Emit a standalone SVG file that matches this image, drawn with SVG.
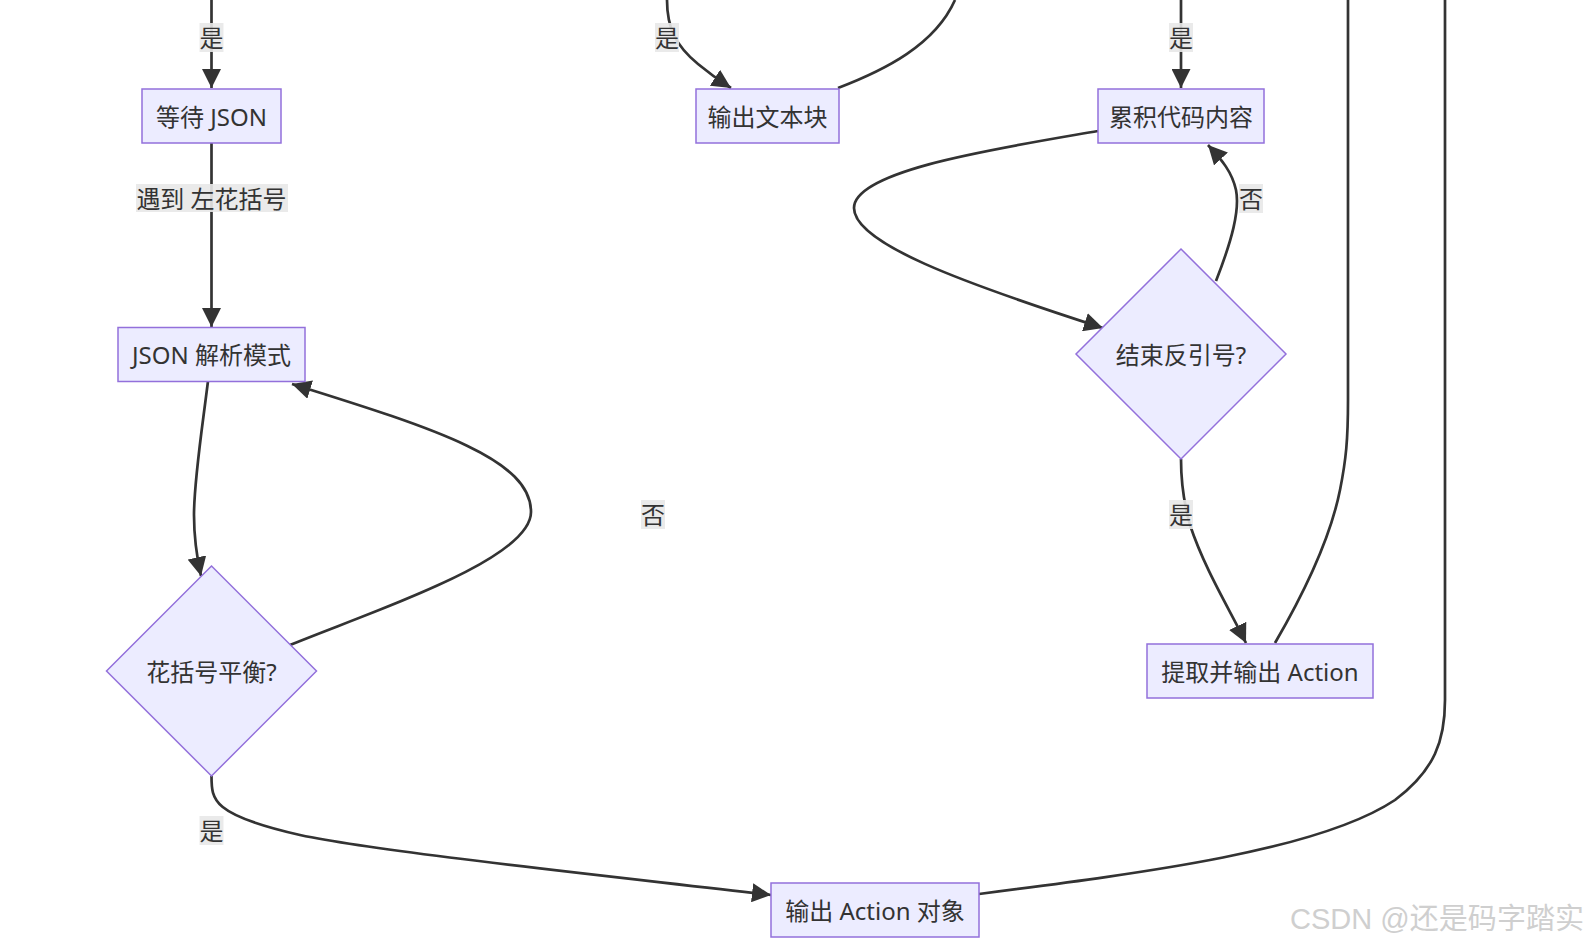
<svg xmlns="http://www.w3.org/2000/svg" width="1590" height="945" viewBox="0 0 1590 945">
<style>
.node rect,.node polygon{fill:#ECECFF;stroke:#9370DB;stroke-width:1.5}
.node text,.elabel text{font-family:"Noto Sans","Noto Sans CJK SC",sans-serif;font-size:24px;fill:#333;text-anchor:middle;dominant-baseline:central}
.edge{fill:none;stroke:#333;stroke-width:2.7}
.elabel rect{fill:#e8e8e8;opacity:0.9}
.wm{font-family:"Liberation Sans","Noto Sans CJK SC",sans-serif;font-size:29px;fill:#cfcfcf}
</style>
<defs>
<marker id="arrow" viewBox="0 0 10 10" refX="10" refY="5" markerUnits="userSpaceOnUse" markerWidth="19" markerHeight="19" orient="auto">
<path d="M0,0 L10,5 L0,10 z" fill="#333"/>
</marker>
</defs>
<rect width="1590" height="945" fill="#fff"/>
<g id="connectors">
<path class="edge" d="M211.5,0 L211.5,88" marker-end="url(#arrow)"/>
<path class="edge" d="M211.5,143 L211.5,327" marker-end="url(#arrow)"/>
<path class="edge" d="M208,381 C202,430 194,480 194,515 C194,540 197,558 201,576" marker-end="url(#arrow)"/>
<path class="edge" d="M290,645 C370,612 531,560 531,512 C531,460 440,430 292,384" marker-end="url(#arrow)"/>
<path class="edge" d="M211.5,776 C211.5,800 212,815 300,835 C380,852 600,875 771,895" marker-end="url(#arrow)"/>
<path class="edge" d="M979,894 C1150,872 1320,850 1395,800 C1435,770 1445,740 1445,700 L1445,0"/>
<path class="edge" d="M667,0 C667,28 676,46 698,64 C710,74 720,81 731,88" marker-end="url(#arrow)"/>
<path class="edge" d="M838,88 C885,70 935,45 955,0"/>
<path class="edge" d="M1181,0 L1181,88" marker-end="url(#arrow)"/>
<path class="edge" d="M1098,131 C1000,148 854,170 854,208 C854,243 960,282 1103,328" marker-end="url(#arrow)"/>
<path class="edge" d="M1216,281 C1232,240 1240,210 1236,190 C1232,172 1222,160 1208,145" marker-end="url(#arrow)"/>
<path class="edge" d="M1181,459 C1181,480 1183,500 1190,525 C1205,570 1230,610 1246,643" marker-end="url(#arrow)"/>
<path class="edge" d="M1275,643 C1300,600 1330,540 1340,490 C1346,460 1348,440 1348,400 L1348,0"/>
</g>
<g id="edge-labels">
<g class="elabel"><rect x="199.5" y="23" width="24" height="29"/><text x="211.5" y="37.5">是</text></g>
<g class="elabel"><rect x="136" y="184" width="152" height="28"/><text x="211.5" y="198">遇到 左花括号</text></g>
<g class="elabel"><rect x="641" y="500" width="24" height="29"/><text x="653" y="514">否</text></g>
<g class="elabel"><rect x="199.5" y="816" width="24" height="29"/><text x="211.5" y="830">是</text></g>
<g class="elabel"><rect x="655" y="23" width="24" height="29"/><text x="667" y="37.5">是</text></g>
<g class="elabel"><rect x="1169" y="23" width="24" height="29"/><text x="1181" y="37.5">是</text></g>
<g class="elabel"><rect x="1239" y="184" width="24" height="29"/><text x="1251" y="198">否</text></g>
<g class="elabel"><rect x="1169" y="500" width="24" height="29"/><text x="1181" y="514">是</text></g>
</g>
<g id="node-wait-json" class="node"><rect x="142" y="89" width="139" height="54"/><text x="211.5" y="116">等待 JSON</text></g>
<g id="node-json-mode" class="node"><rect x="118" y="327.5" width="187" height="54"/><text x="211.5" y="354.5">JSON 解析模式</text></g>
<g id="node-brace-balanced" class="node"><polygon points="211.5,566 316.5,671 211.5,776 106.5,671"/><text x="211.5" y="671">花括号平衡?</text></g>
<g id="node-output-text" class="node"><rect x="696" y="89" width="143" height="54"/><text x="767.5" y="116">输出文本块</text></g>
<g id="node-accumulate" class="node"><rect x="1098" y="89" width="166" height="54"/><text x="1181" y="116">累积代码内容</text></g>
<g id="node-end-backtick" class="node"><polygon points="1181,249 1286,354 1181,459 1076,354"/><text x="1181" y="354">结束反引号?</text></g>
<g id="node-extract-action" class="node"><rect x="1147" y="644" width="226" height="54"/><text x="1260" y="671">提取并输出 Action</text></g>
<g id="node-output-action" class="node"><rect x="771" y="883" width="208" height="54"/><text x="875" y="910">输出 Action 对象</text></g>
<text class="wm" x="1290" y="929" textLength="294" lengthAdjust="spacingAndGlyphs">CSDN @还是码字踏实</text>
</svg>
